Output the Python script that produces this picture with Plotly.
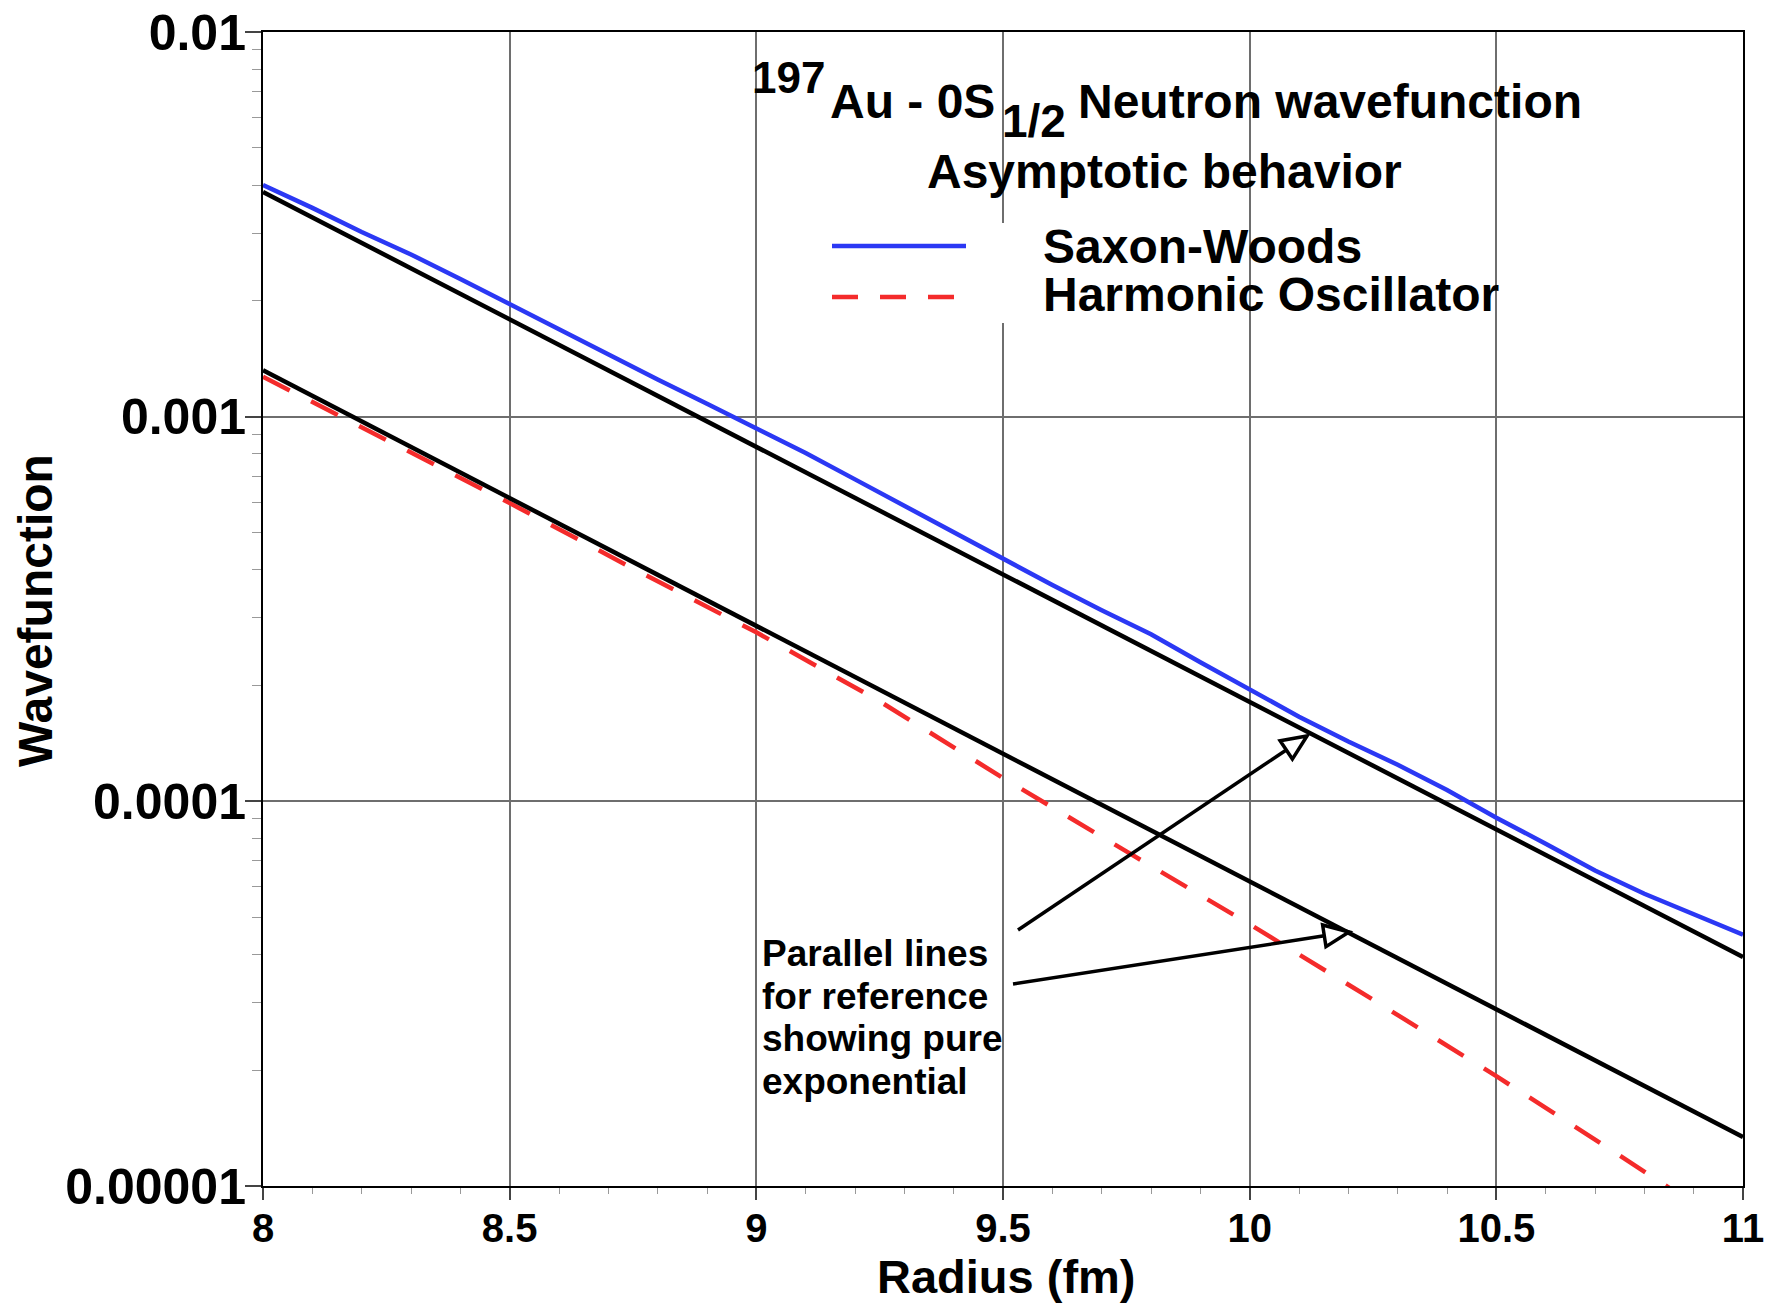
import plotly.graph_objects as go

# ---------------- data ----------------
radius_sw = [8.0, 8.1, 8.2, 8.3, 8.4, 8.5, 8.6, 8.7, 8.8, 8.9, 9.0, 9.1, 9.2, 9.3, 9.4, 9.5,
             9.6, 9.7, 9.8, 9.9, 10.0, 10.1, 10.2, 10.3, 10.4, 10.5, 10.6, 10.7, 10.8, 10.9, 11.0]
saxon_woods = [4.00e-3, 3.49e-3, 3.02e-3, 2.64e-3, 2.28e-3, 1.96e-3, 1.69e-3, 1.45e-3, 1.25e-3,
               1.08e-3, 9.33e-4, 8.04e-4, 6.87e-4, 5.86e-4, 4.99e-4, 4.25e-4, 3.65e-4, 3.14e-4,
               2.72e-4, 2.30e-4, 1.95e-4, 1.66e-4, 1.43e-4, 1.245e-4, 1.07e-4, 9.06e-5, 7.76e-5,
               6.61e-5, 5.75e-5, 5.07e-5, 4.50e-5]

radius_ho = [8.0, 8.25, 8.5, 8.75, 9.0, 9.25, 9.5, 9.75, 10.0, 10.25, 10.5, 10.75, 11.0]
harmonic_osc = [1.27e-3, 8.71e-4, 5.96e-4, 4.03e-4, 2.75e-4, 1.82e-4, 1.15e-4, 7.41e-5,
                4.79e-5, 3.05e-5, 1.93e-5, 1.20e-5, 7.41e-6]

radius_ref = [8.0, 11.0]
ref_upper = [3.84e-3, 3.94e-5]
ref_lower = [1.32e-3, 1.34e-5]

y_tickvals = [1e-5, 1e-4, 1e-3, 1e-2]
y_ticktext = ["0.00001", "0.0001", "0.001", "0.01"]
x_tickvals = [8, 8.5, 9, 9.5, 10, 10.5, 11]
x_ticktext = ["8", "8.5", "9", "9.5", "10", "10.5", "11"]

# ---------------- layout helpers ----------------
W, H = 1775, 1304
L, R, T, B = 263, 1743, 32, 1186
FONT = "Liberation Sans"
BLUE = "#2b38f4"
RED = "#f42b2b"


def px(x):
    return (x - L) / (R - L)


def py(y):
    return (B - y) / (B - T)


fig = go.Figure()
fig.add_trace(go.Scatter(x=radius_sw, y=saxon_woods, mode="lines",
                         line=dict(color=BLUE, width=4.5), name="Saxon-Woods"))
fig.add_trace(go.Scatter(x=radius_ho, y=harmonic_osc, mode="lines",
                         line=dict(color=RED, width=4.5, dash="30px,24px"),
                         name="Harmonic Oscillator"))
fig.add_trace(go.Scatter(x=radius_ref, y=ref_upper, mode="lines",
                         line=dict(color="black", width=4.5), name="ref1"))
fig.add_trace(go.Scatter(x=radius_ref, y=ref_lower, mode="lines",
                         line=dict(color="black", width=4.5), name="ref2"))

minor_y = [m * 10 ** e for e in (-5, -4, -3) for m in range(2, 10)]

fig.update_layout(
    template="none",
    width=W, height=H,
    margin=dict(l=L, r=W - R, t=T, b=H - B, pad=0),
    paper_bgcolor="white", plot_bgcolor="white",
    showlegend=False,
    font=dict(family=FONT, color="black"),
    xaxis=dict(
        range=[8, 11], tickvals=x_tickvals, ticktext=x_ticktext, automargin=False,
        tickfont=dict(family=FONT, size=40, weight="bold", color="black"),
        ticklabelstandoff=-6,
        showgrid=True, gridcolor="#6e6e6e", gridwidth=1.5,
        showline=True, linecolor="black", linewidth=2, mirror=True,
        ticks="outside", ticklen=12, tickwidth=1.5, tickcolor="#444",
        minor=dict(dtick=0.1, ticks="outside", ticklen=6, tickcolor="#999",
                   tickwidth=1, showgrid=False),
        zeroline=False,
    ),
    yaxis=dict(
        type="log", range=[-5, -2], tickvals=y_tickvals, ticktext=y_ticktext,
        automargin=False,
        tickfont=dict(family=FONT, size=50, weight="bold", color="black"),
        ticklabelstandoff=-11,
        showgrid=True, gridcolor="#6e6e6e", gridwidth=1.5,
        showline=True, linecolor="black", linewidth=2, mirror=True,
        ticks="outside", ticklen=16, tickwidth=1.5, tickcolor="#444",
        minor=dict(tickvals=minor_y, ticks="outside", ticklen=9, tickcolor="#999",
                   tickwidth=1, showgrid=False),
        zeroline=False,
    ),
)

shapes = []
# white box behind the legend samples
shapes.append(dict(type="rect", xref="paper", yref="paper", layer="above",
                   x0=px(815), x1=px(1035), y0=py(323), y1=py(223),
                   fillcolor="white", line=dict(width=0)))
shapes.append(dict(type="line", xref="paper", yref="paper", layer="above",
                   x0=px(832), x1=px(966), y0=py(246), y1=py(246),
                   line=dict(color=BLUE, width=4.5)))
shapes.append(dict(type="line", xref="paper", yref="paper", layer="above",
                   x0=px(832), x1=px(966), y0=py(297), y1=py(297),
                   line=dict(color=RED, width=4.5, dash="26px,22px")))

# arrows with open triangular heads
arrows = [((1018, 930), (1307, 736)), ((1013, 984), (1349, 932))]
for (ax_, ay_), (tx, ty) in arrows:
    dx, dy = tx - ax_, ty - ay_
    n = (dx * dx + dy * dy) ** 0.5
    ux, uy = dx / n, dy / n
    hl, hw = 25, 11
    bx, by = tx - hl * ux, ty - hl * uy
    c1 = (bx - hw * uy, by + hw * ux)
    c2 = (bx + hw * uy, by - hw * ux)
    shapes.append(dict(type="line", xref="paper", yref="paper", layer="above",
                       x0=px(ax_), y0=py(ay_), x1=px(bx), y1=py(by),
                       line=dict(color="black", width=3.5)))
    path = "M {},{} L {},{} L {},{} Z".format(px(tx), py(ty), px(c1[0]), py(c1[1]),
                                              px(c2[0]), py(c2[1]))
    shapes.append(dict(type="path", xref="paper", yref="paper", layer="above",
                       path=path, fillcolor="white", line=dict(color="black", width=3.5)))

fig.update_layout(shapes=shapes)

ann = []


def txt(text, x, y, size, xanchor="left", angle=0, height=None):
    d = dict(text=text, xref="paper", yref="paper", x=px(x), y=py(y),
             xanchor=xanchor, yanchor="middle", showarrow=False, textangle=angle,
             font=dict(family=FONT, size=size, color="black", weight="bold"))
    if height is not None:
        d["height"] = height
    ann.append(d)


# title pieces
txt("197", 750, 77, 44)
txt("Au - 0S", 828, 101, 48)
txt("1/2", 1000, 121, 46)
txt("Neutron wavefunction", 1076, 101, 48)
txt("Asymptotic behavior", 1164, 172, 48, xanchor="center")
# legend texts
txt("Saxon-Woods", 1041, 247, 48)
txt("Harmonic Oscillator", 1041, 295, 48)
# note
txt("Parallel lines", 760, 953, 37, height=42)
txt("for reference", 760, 996, 37, height=42)
txt("showing pure", 760, 1038, 37, height=42)
txt("exponential", 760, 1081, 37, height=42)
# axis titles
txt("Radius (fm)", 1006, 1276, 47, xanchor="center")
txt("Wavefunction", 35, 611, 48, xanchor="center", angle=-90)

fig.update_layout(annotations=ann)

fig.write_html("out.html")
